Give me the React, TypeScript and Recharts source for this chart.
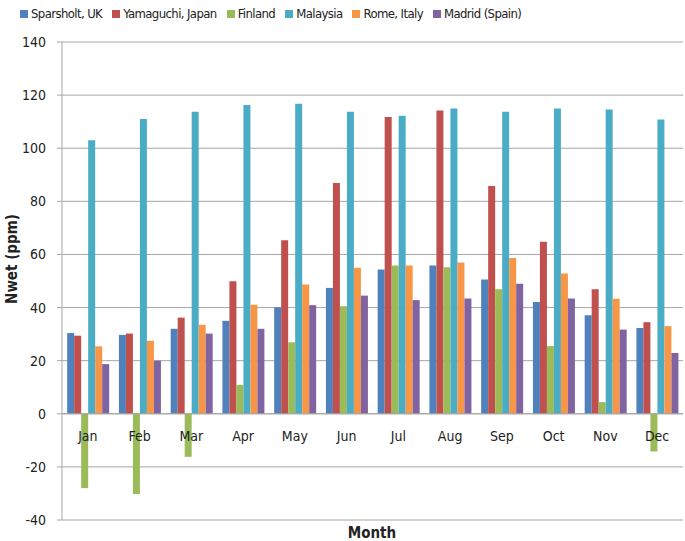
import React from "react";
import { Bar, BarChart, CartesianGrid, Legend, ReferenceLine, XAxis, YAxis } from "recharts";

const months = ["Jan", "Feb", "Mar", "Apr", "May", "Jun", "Jul", "Aug", "Sep", "Oct", "Nov", "Dec"];
const sparsholt = [30.4, 29.7, 32, 35, 40.1, 47.4, 54.3, 55.8, 50.6, 42.1, 37.1, 32.3];
const yamaguchi = [29.4, 30.2, 36.2, 49.9, 65.3, 86.9, 111.8, 114.2, 85.8, 64.8, 46.9, 34.5];
const finland = [-28, -30.2, -16.2, 10.9, 26.9, 40.5, 55.8, 55.2, 46.9, 25.5, 4.4, -14.2];
const malaysia = [103, 111, 113.7, 116.3, 116.7, 113.7, 112.2, 115, 113.7, 115, 114.6, 110.8];
const rome = [25.4, 27.5, 33.5, 41.1, 48.7, 55, 55.8, 57, 58.7, 52.8, 43.3, 33];
const madrid = [18.7, 20, 30.2, 32, 40.9, 44.5, 42.8, 43.4, 49, 43.4, 31.7, 22.9];
const yTicks = [-40, -20, 0, 20, 40, 60, 80, 100, 120, 140];

const series = [
  { key: "sparsholt", name: "Sparsholt, UK", color: "#4F81BD", values: sparsholt },
  { key: "yamaguchi", name: "Yamaguchi, Japan", color: "#C0504D", values: yamaguchi },
  { key: "finland", name: "Finland", color: "#9BBB59", values: finland },
  { key: "malaysia", name: "Malaysia", color: "#4BACC6", values: malaysia },
  { key: "rome", name: "Rome, Italy", color: "#F79646", values: rome },
  { key: "madrid", name: "Madrid (Spain)", color: "#8064A2", values: madrid },
];

const data = months.map((month, i) => {
  const row: Record<string, string | number> = { month };
  series.forEach((s) => (row[s.key] = s.values[i]));
  return row;
});

const W = 685;
const H = 541;
const LEGEND_H = 20;
const PLOT_TOP = 42;
const PLOT_BOTTOM = 520;
const Y_MIN = -40;
const Y_MAX = 140;
const FONT = "'Liberation Sans Narrow', 'DejaVu Sans Condensed', 'Open Sans', sans-serif";
const zeroY = PLOT_TOP + ((Y_MAX - 0) / (Y_MAX - Y_MIN)) * (PLOT_BOTTOM - PLOT_TOP);

function MonthTick(props: any) {
  const { x, payload } = props;
  return (
    <text x={x} y={zeroY + 27} textAnchor="middle" fontSize={14} fill="#222" fontFamily={FONT}>
      {payload.value}
    </text>
  );
}

function LegendRow() {
  return (
    <div
      style={{
        display: "flex",
        fontFamily: FONT,
        fontSize: 13,
        letterSpacing: -0.6,
        color: "#222",
        whiteSpace: "nowrap",
      }}
    >
      {series.map((s) => (
        <div key={s.key} style={{ display: "flex", alignItems: "center", marginRight: 10 }}>
          <span style={{ display: "inline-block", width: 8, height: 8, background: s.color, marginRight: 3 }} />
          {s.name}
        </div>
      ))}
    </div>
  );
}

export default function App() {
  return (
    <div style={{ position: "absolute", left: 0, top: 0, width: W, height: H, background: "#fff" }}>
      <BarChart
        width={W}
        height={H}
        data={data}
        margin={{ top: PLOT_TOP - LEGEND_H, right: 2, bottom: 0, left: 0 }}
        barCategoryGap="10%"
        barGap={0}
      >
        <CartesianGrid vertical={false} stroke="#a6a6a6" />
        <XAxis
          dataKey="month"
          height={H - PLOT_BOTTOM}
          axisLine={false}
          tickLine={false}
          tick={<MonthTick />}
          interval={0}
        />
        <YAxis
          domain={[Y_MIN, Y_MAX]}
          ticks={yTicks}
          width={62}
          stroke="#a6a6a6"
          tickSize={5}
          tickMargin={11}
          tick={{ fontSize: 14, fill: "#222", fontFamily: FONT }}
          interval={0}
          label={{
            value: "Nwet (ppm)",
            angle: -90,
            position: "insideLeft",
            offset: 0,
            dx: 12,
            dy: -22,
            style: { fontSize: 15, fontWeight: "bold", fill: "#222", fontFamily: FONT, textAnchor: "middle" },
          }}
        />
        <ReferenceLine y={0} stroke="#a6a6a6" />
        <Legend
          verticalAlign="top"
          content={() => <LegendRow />}
          wrapperStyle={{ top: 6, left: 20, width: "auto", height: LEGEND_H }}
        />
        {series.map((s) => (
          <Bar key={s.key} dataKey={s.key} name={s.name} fill={s.color} isAnimationActive={false} />
        ))}
        <text x={372} y={538} textAnchor="middle" fontSize={15} fontWeight="bold" fill="#222" fontFamily={FONT}>
          Month
        </text>
      </BarChart>
    </div>
  );
}
